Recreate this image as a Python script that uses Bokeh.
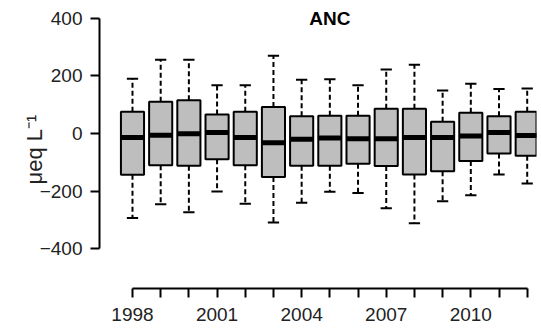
from bokeh.plotting import figure
from bokeh.models import ColumnDataSource, FixedTicker, Label, Range1d
from bokeh.embed import file_html
from bokeh.resources import INLINE

# Annual ANC distributions (µeq/L): whisker ends, quartiles and medians
years = [1998, 1999, 2000, 2001, 2002, 2003, 2004, 2005, 2006, 2007, 2008, 2009, 2010, 2011, 2012]
upper = [190, 255, 255, 167, 167, 269, 186, 188, 167, 222, 238, 149, 172, 154, 156]
q3 = [75, 110, 115, 66, 75, 92, 60, 61, 61, 86, 86, 41, 72, 60, 75]
median = [-14, -6, -1, 3, -14, -32, -20, -16, -18, -18, -14, -14, -9, 3, -7]
q1 = [-143, -110, -112, -89, -110, -151, -112, -112, -105, -113, -142, -131, -95, -69, -77]
lower = [-293, -245, -273, -201, -243, -308, -240, -202, -206, -259, -311, -235, -214, -142, -173]

y_ticks = [-400, -200, 0, 200, 400]
x_labels = {1998: "1998", 2001: "2001", 2004: "2004", 2007: "2007", 2010: "2010"}

BOX_W = 0.82
CAP_W = 0.40
FONT = "Liberation Sans"
TEXT_COL = "#222222"

src = ColumnDataSource(dict(
    x=years, upper=upper, q3=q3, med=median, q1=q1, lower=lower,
    bl=[y - BOX_W / 2 for y in years], br=[y + BOX_W / 2 for y in years],
    cl=[y - CAP_W / 2 for y in years], cr=[y + CAP_W / 2 for y in years],
))

p = figure(width=541, height=333, output_backend="svg", toolbar_location=None,
           x_range=Range1d(1996.83, 2012.33), y_range=Range1d(-537, 426),
           min_border_left=99, min_border_right=5, min_border_top=10, min_border_bottom=45)
p.outline_line_color = None
p.xgrid.visible = False
p.ygrid.visible = False
p.background_fill_color = "white"
p.border_fill_color = "white"

# dashed whiskers
p.segment(x0="x", y0="q3", x1="x", y1="upper", source=src, line_color="black",
          line_width=2, line_dash="5 3")
p.segment(x0="x", y0="q1", x1="x", y1="lower", source=src, line_color="black",
          line_width=2, line_dash="5 3")
# whisker caps
p.segment(x0="cl", y0="upper", x1="cr", y1="upper", source=src, line_color="black", line_width=2)
p.segment(x0="cl", y0="lower", x1="cr", y1="lower", source=src, line_color="black", line_width=2)
# boxes
p.vbar(x="x", width=BOX_W, top="q3", bottom="q1", source=src,
       fill_color="#bebebe", line_color="black", line_width=2)
# medians
p.segment(x0="bl", y0="med", x1="br", y1="med", source=src, line_color="black",
          line_width=5, line_cap="butt")

# y axis
ya = p.yaxis[0]
ya.ticker = FixedTicker(ticks=y_ticks)
ya.bounds = (-400, 400)
ya.major_label_overrides = {-400: "\u2212400", -200: "\u2212200"}
ya.axis_label = "\u03bceq L\u207b\u00b9"
ya.axis_label_text_font = FONT
ya.axis_label_text_font_style = "normal"
ya.axis_label_text_font_size = "22px"
ya.axis_label_text_color = TEXT_COL
ya.axis_label_standoff = -10
ya.major_label_text_font = FONT
ya.major_label_text_font_size = "19px"
ya.major_label_text_color = TEXT_COL
ya.major_label_standoff = 8
ya.major_tick_out = 9
ya.major_tick_in = 0
ya.minor_tick_out = 0
ya.minor_tick_in = 0
ya.axis_line_width = 2
ya.major_tick_line_width = 2

# x axis
xa = p.xaxis[0]
xa.ticker = FixedTicker(ticks=years)
xa.bounds = (1998, 2012)
xa.major_label_overrides = {y: x_labels.get(y, "") for y in years}
xa.major_label_text_font = FONT
xa.major_label_text_font_size = "19px"
xa.major_label_text_color = TEXT_COL
xa.major_label_standoff = 10
xa.major_tick_out = 9
xa.major_tick_in = 0
xa.minor_tick_out = 0
xa.minor_tick_in = 0
xa.axis_line_width = 2
xa.major_tick_line_width = 2

# panel title
p.add_layout(Label(x=2005.0, y=398, text="ANC", text_align="center", text_baseline="middle",
                   text_font=FONT, text_font_style="bold", text_font_size="19px",
                   text_color="black"))

open("out.html", "w").write(file_html(p, INLINE))
